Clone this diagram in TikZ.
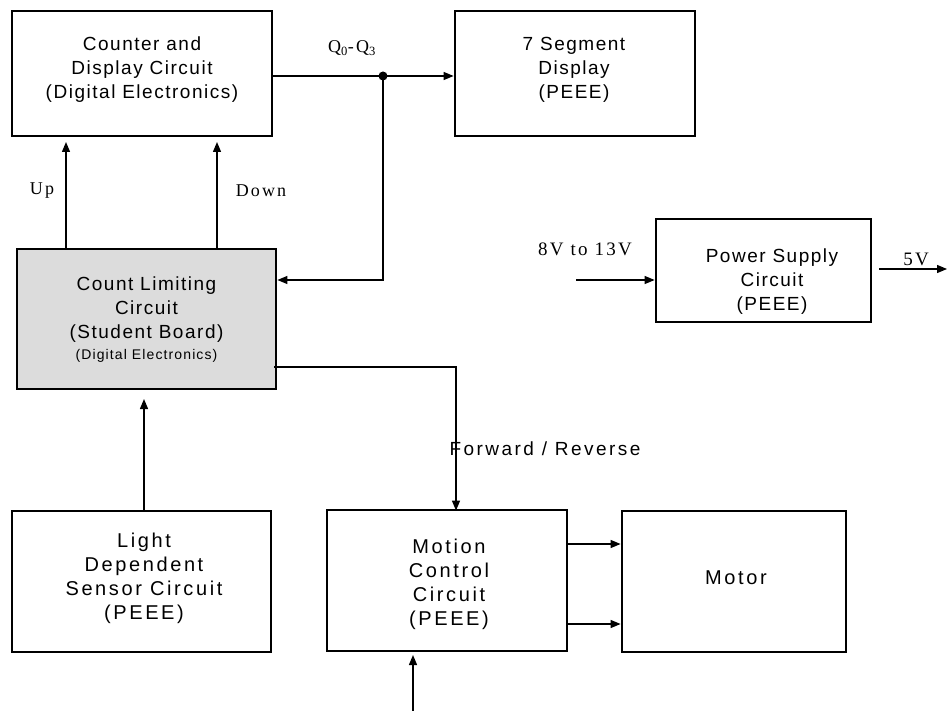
\documentclass[tikz,border=0pt]{standalone}
\usepackage{fontspec}
\setmainfont{Liberation Sans}
\newfontfamily\boxfont[LetterSpace=8]{Liberation Sans}
\newfontfamily\boxwidefont[LetterSpace=13]{Liberation Sans}
\newfontfamily\lblfont[LetterSpace=12]{Liberation Serif}
\usetikzlibrary{arrows.meta}
\begin{document}
\begin{tikzpicture}[x=1pt,y=-1pt,
  blk/.style={draw=black, line width=2.8pt, inner sep=0pt, fill=white},
  txt/.style={align=center, inner sep=0pt, font=\boxfont\fontsize{19}{24}\selectfont},
  txtb/.style={align=center, inner sep=0pt, font=\boxwidefont\fontsize{20}{24}\selectfont},
  lbl/.style={inner sep=0pt, font=\lblfont\fontsize{18}{20}\selectfont},
  conn/.style={line width=1.3pt, -{Triangle[length=10pt,width=8pt]}},
  wire/.style={line width=1.3pt}
]
\useasboundingbox (0,0) rectangle (947,711);
% boxes
\node[blk, minimum width=260pt, minimum height=125pt] (counter) at (142,73.5) {};
\node[blk, minimum width=240pt, minimum height=125pt] (seg) at (575,73.5) {};
\node[blk, fill={rgb,255:red,220;green,220;blue,220}, minimum width=259pt, minimum height=140pt] (limit) at (146.5,319) {};
\node[blk, minimum width=215pt, minimum height=103pt] (power) at (763.5,270.5) {};
\node[blk, minimum width=259pt, minimum height=141pt] (light) at (141.5,581.5) {};
\node[blk, minimum width=240pt, minimum height=141pt] (motion) at (447,580.5) {};
\node[blk, minimum width=224pt, minimum height=141pt] (motor) at (734,581.5) {};
% box texts
\node[txt] (tcounter) at (142,70) {Counter and\\Display Circuit\\(Digital Electronics)};
\node[txt] (tseg) at (574,70) {7 Segment\\Display\\(PEEE)};
\node[txt, anchor=north] (tlimit) at (146.5,277) {Count Limiting\\Circuit\\(Student Board)\\[-3pt]{\fontsize{14}{16}\selectfont (Digital Electronics)}};
\node[txt] (tpower) at (772,282) {Power Supply\\Circuit\\(PEEE)};
\node[txtb] (tlight) at (144,578.5) {Light\\Dependent\\Sensor Circuit\\(PEEE)};
\node[txtb] (tmotion) at (449,584.5) {Motion\\Control\\Circuit\\(PEEE)};
\node[txtb] (tmotor) at (736,578) {Motor};
% connector points
\coordinate (dot) at (383,76);
\coordinate (qturn) at (383,280);
\coordinate (fturn) at (456,367);
\coordinate (upS) at (66,249);
\coordinate (upE) at (66,142);
\coordinate (dnS) at (217,249);
\coordinate (dnE) at (217,142);
\coordinate (ldS) at (144,510);
\coordinate (ldE) at (144,399);
\coordinate (mcin) at (413,711);
\coordinate (mcinE) at (413,655);
\coordinate (psin) at (576,280);
\coordinate (psoutS) at (879,269);
\coordinate (psoutE) at (947,269);
% connectors
\draw[conn] (counter.east |- dot) -- (seg.west |- dot);
\fill (dot) circle (4.5pt);
\draw[conn] (dot) -- (qturn) -- (limit.east |- qturn);
\draw[conn] (upS) -- (upE);
\draw[conn] (dnS) -- (dnE);
\draw[conn] (ldS) -- (ldE);
\draw[conn] ([xshift=-3pt]limit.east |- fturn) -- (fturn) -- ([yshift=-2pt]motion.north -| fturn);
\draw[conn] (motion.east |- 0,544) -- (motor.west |- 0,544);
\draw[conn] (motion.east |- 0,624) -- (motor.west |- 0,624);
\draw[conn] (mcin) -- (mcinE);
\draw[conn] (psin) -- (power.west |- psin);
\draw[conn] (psoutS) -- (psoutE);
% labels
\node[lbl] (lup) at (42,191) {Up};
\node[lbl] (ldown) at (261,191) {Down};
\node[lbl, font=\lblfont\fontsize{18}{20}\selectfont] (lq) at (352,48) {Q\textsubscript{0}-Q\textsubscript{3}};
\node[lbl, font=\lblfont\fontsize{19}{20}\selectfont] (lv) at (585,249) {8V to 13V};
\node[lbl, font=\lblfont\fontsize{19}{20}\selectfont] (l5) at (916,259) {5V};
\node[txt, font=\boxwidefont\fontsize{19}{24}\selectfont] (lfr) at (545,449) {Forward / Reverse};
\end{tikzpicture}
\end{document}
